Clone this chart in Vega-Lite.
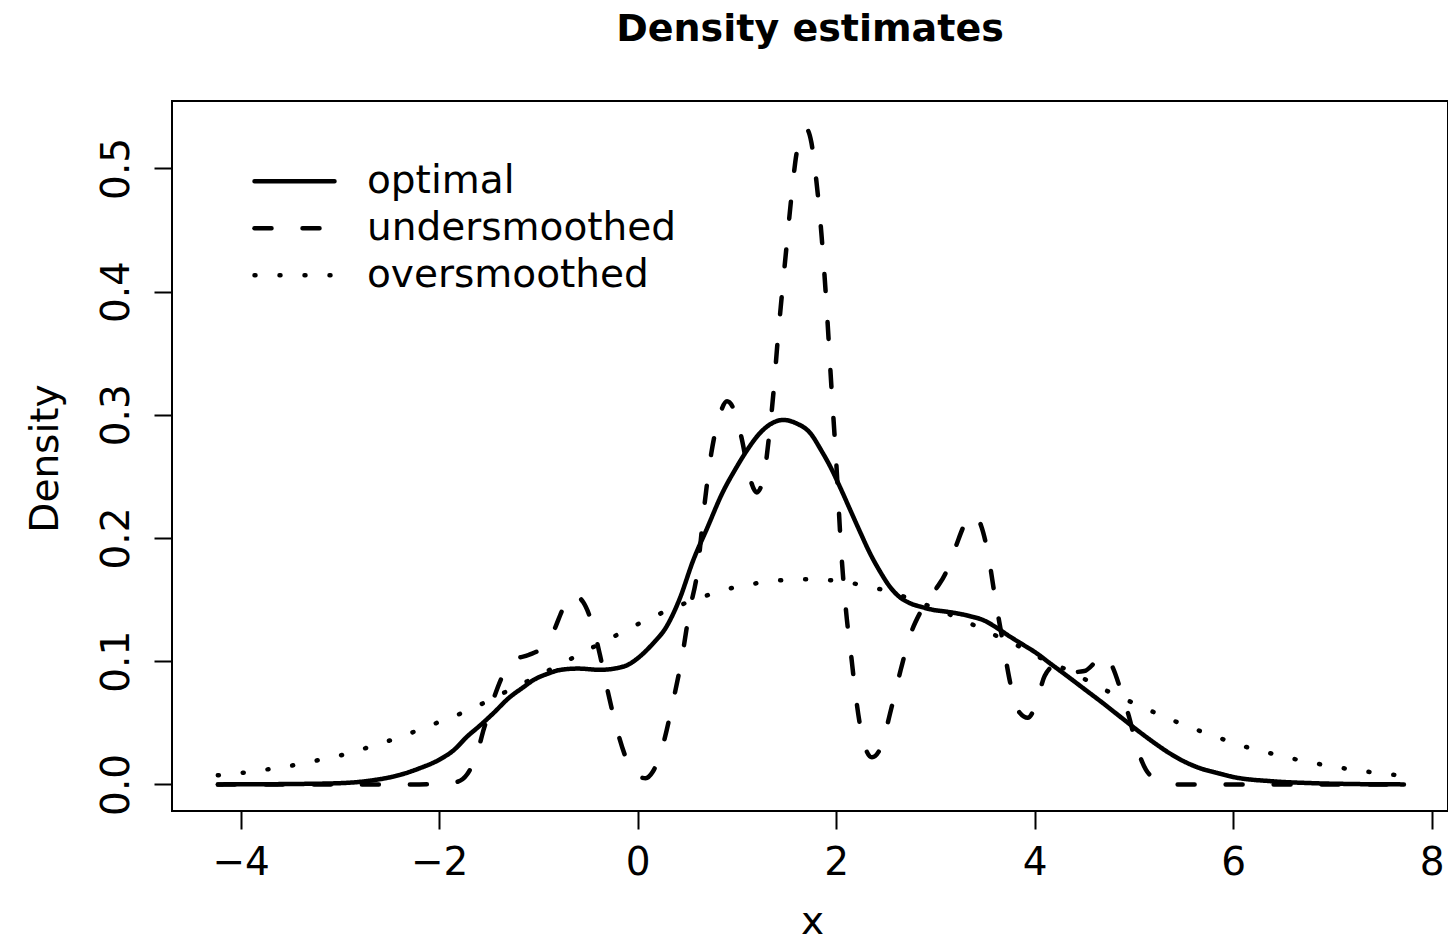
{
  "$schema": "https://vega.github.io/schema/vega-lite/v6.json",
  "width": 1276,
  "height": 710,
  "autosize": {"type": "none"},
  "padding": {"left": 172, "top": 101, "right": 0, "bottom": 134},
  "background": "white",
  "config": {
    "view": {"stroke": "black", "strokeWidth": 2},
    "font": "DejaVu Sans",
    "axis": {
      "domain": false, "grid": false, "tickColor": "black", "tickWidth": 2, "tickSize": 18,
      "labelFont": "DejaVu Sans", "labelFontSize": 39, "labelColor": "black",
      "titleFont": "DejaVu Sans", "titleFontSize": 39, "titleFontWeight": "normal", "titleColor": "black"
    }
  },
  "title": {
    "text": "Density estimates", "font": "DejaVu Sans", "fontSize": 38, "fontWeight": "bold",
    "color": "black", "anchor": "middle", "baseline": "alphabetic", "offset": 22
  },
  "data": {
    "values": [
      {"curve": "optimal", "x": -4.23, "density": 0},
      {"curve": "optimal", "x": -3.5, "density": 0.0003},
      {"curve": "optimal", "x": -3.0, "density": 0.001},
      {"curve": "optimal", "x": -2.7, "density": 0.003},
      {"curve": "optimal", "x": -2.4, "density": 0.0076},
      {"curve": "optimal", "x": -2.2, "density": 0.013},
      {"curve": "optimal", "x": -2.0, "density": 0.02},
      {"curve": "optimal", "x": -1.85, "density": 0.028},
      {"curve": "optimal", "x": -1.72, "density": 0.0387},
      {"curve": "optimal", "x": -1.6, "density": 0.047},
      {"curve": "optimal", "x": -1.455, "density": 0.0577},
      {"curve": "optimal", "x": -1.3, "density": 0.07},
      {"curve": "optimal", "x": -1.15, "density": 0.079},
      {"curve": "optimal", "x": -1.05, "density": 0.0847},
      {"curve": "optimal", "x": -0.9, "density": 0.09},
      {"curve": "optimal", "x": -0.78, "density": 0.0929},
      {"curve": "optimal", "x": -0.6, "density": 0.094},
      {"curve": "optimal", "x": -0.38, "density": 0.093},
      {"curve": "optimal", "x": -0.22, "density": 0.0942},
      {"curve": "optimal", "x": -0.1, "density": 0.097},
      {"curve": "optimal", "x": 0.02, "density": 0.1037},
      {"curve": "optimal", "x": 0.15, "density": 0.114},
      {"curve": "optimal", "x": 0.29, "density": 0.128},
      {"curve": "optimal", "x": 0.42, "density": 0.15},
      {"curve": "optimal", "x": 0.56, "density": 0.182},
      {"curve": "optimal", "x": 0.7, "density": 0.208},
      {"curve": "optimal", "x": 0.85, "density": 0.236},
      {"curve": "optimal", "x": 1.0, "density": 0.258},
      {"curve": "optimal", "x": 1.1, "density": 0.271},
      {"curve": "optimal", "x": 1.23, "density": 0.285},
      {"curve": "optimal", "x": 1.35, "density": 0.293},
      {"curve": "optimal", "x": 1.47, "density": 0.2958},
      {"curve": "optimal", "x": 1.6, "density": 0.293},
      {"curve": "optimal", "x": 1.74, "density": 0.285},
      {"curve": "optimal", "x": 1.85, "density": 0.271},
      {"curve": "optimal", "x": 1.94, "density": 0.258},
      {"curve": "optimal", "x": 2.04, "density": 0.241},
      {"curve": "optimal", "x": 2.14, "density": 0.223},
      {"curve": "optimal", "x": 2.24, "density": 0.205},
      {"curve": "optimal", "x": 2.34, "density": 0.1876},
      {"curve": "optimal", "x": 2.44, "density": 0.173},
      {"curve": "optimal", "x": 2.54, "density": 0.1605},
      {"curve": "optimal", "x": 2.64, "density": 0.152},
      {"curve": "optimal", "x": 2.745, "density": 0.147},
      {"curve": "optimal", "x": 2.86, "density": 0.144},
      {"curve": "optimal", "x": 2.98, "density": 0.1416},
      {"curve": "optimal", "x": 3.1, "density": 0.1403},
      {"curve": "optimal", "x": 3.21, "density": 0.1389},
      {"curve": "optimal", "x": 3.35, "density": 0.1365},
      {"curve": "optimal", "x": 3.48, "density": 0.1334},
      {"curve": "optimal", "x": 3.62, "density": 0.127},
      {"curve": "optimal", "x": 3.75, "density": 0.12},
      {"curve": "optimal", "x": 3.88, "density": 0.1135},
      {"curve": "optimal", "x": 4.02, "density": 0.1064},
      {"curve": "optimal", "x": 4.15, "density": 0.0985},
      {"curve": "optimal", "x": 4.29, "density": 0.0902},
      {"curve": "optimal", "x": 4.49, "density": 0.078},
      {"curve": "optimal", "x": 4.69, "density": 0.0658},
      {"curve": "optimal", "x": 4.86, "density": 0.055},
      {"curve": "optimal", "x": 5.03, "density": 0.0442},
      {"curve": "optimal", "x": 5.2, "density": 0.034},
      {"curve": "optimal", "x": 5.36, "density": 0.0252},
      {"curve": "optimal", "x": 5.52, "density": 0.018},
      {"curve": "optimal", "x": 5.67, "density": 0.013},
      {"curve": "optimal", "x": 5.85, "density": 0.009},
      {"curve": "optimal", "x": 6.0, "density": 0.006},
      {"curve": "optimal", "x": 6.4, "density": 0.0025},
      {"curve": "optimal", "x": 6.8, "density": 0.001},
      {"curve": "optimal", "x": 7.2, "density": 0.0003},
      {"curve": "optimal", "x": 7.72, "density": 0},

      {"curve": "undersmoothed", "x": -4.23, "density": 0},
      {"curve": "undersmoothed", "x": -3.0, "density": 0},
      {"curve": "undersmoothed", "x": -2.2, "density": 0},
      {"curve": "undersmoothed", "x": -1.95, "density": 0.0005},
      {"curve": "undersmoothed", "x": -1.82, "density": 0.002},
      {"curve": "undersmoothed", "x": -1.72, "density": 0.008},
      {"curve": "undersmoothed", "x": -1.62, "density": 0.025},
      {"curve": "undersmoothed", "x": -1.55, "density": 0.045},
      {"curve": "undersmoothed", "x": -1.45, "density": 0.07},
      {"curve": "undersmoothed", "x": -1.35, "density": 0.09},
      {"curve": "undersmoothed", "x": -1.25, "density": 0.101},
      {"curve": "undersmoothed", "x": -1.1, "density": 0.105},
      {"curve": "undersmoothed", "x": -0.95, "density": 0.112},
      {"curve": "undersmoothed", "x": -0.85, "density": 0.124},
      {"curve": "undersmoothed", "x": -0.75, "density": 0.143},
      {"curve": "undersmoothed", "x": -0.65, "density": 0.154},
      {"curve": "undersmoothed", "x": -0.55, "density": 0.148},
      {"curve": "undersmoothed", "x": -0.45, "density": 0.128},
      {"curve": "undersmoothed", "x": -0.38, "density": 0.105},
      {"curve": "undersmoothed", "x": -0.3, "density": 0.075},
      {"curve": "undersmoothed", "x": -0.2, "density": 0.042},
      {"curve": "undersmoothed", "x": -0.1, "density": 0.018},
      {"curve": "undersmoothed", "x": 0.0, "density": 0.007},
      {"curve": "undersmoothed", "x": 0.08, "density": 0.005},
      {"curve": "undersmoothed", "x": 0.15, "density": 0.01},
      {"curve": "undersmoothed", "x": 0.24, "density": 0.028},
      {"curve": "undersmoothed", "x": 0.35, "density": 0.065},
      {"curve": "undersmoothed", "x": 0.45, "density": 0.105},
      {"curve": "undersmoothed", "x": 0.52, "density": 0.14},
      {"curve": "undersmoothed", "x": 0.6, "density": 0.172},
      {"curve": "undersmoothed", "x": 0.67, "density": 0.225},
      {"curve": "undersmoothed", "x": 0.74, "density": 0.268},
      {"curve": "undersmoothed", "x": 0.82, "density": 0.298},
      {"curve": "undersmoothed", "x": 0.9, "density": 0.311},
      {"curve": "undersmoothed", "x": 0.98, "density": 0.302},
      {"curve": "undersmoothed", "x": 1.05, "density": 0.28},
      {"curve": "undersmoothed", "x": 1.12, "density": 0.252},
      {"curve": "undersmoothed", "x": 1.2, "density": 0.237},
      {"curve": "undersmoothed", "x": 1.27, "density": 0.25},
      {"curve": "undersmoothed", "x": 1.32, "density": 0.28},
      {"curve": "undersmoothed", "x": 1.37, "density": 0.32},
      {"curve": "undersmoothed", "x": 1.41, "density": 0.36},
      {"curve": "undersmoothed", "x": 1.45, "density": 0.395},
      {"curve": "undersmoothed", "x": 1.5, "density": 0.437},
      {"curve": "undersmoothed", "x": 1.55, "density": 0.478},
      {"curve": "undersmoothed", "x": 1.6, "density": 0.512},
      {"curve": "undersmoothed", "x": 1.65, "density": 0.527},
      {"curve": "undersmoothed", "x": 1.7, "density": 0.532},
      {"curve": "undersmoothed", "x": 1.75, "density": 0.521},
      {"curve": "undersmoothed", "x": 1.8, "density": 0.49},
      {"curve": "undersmoothed", "x": 1.85, "density": 0.448},
      {"curve": "undersmoothed", "x": 1.9, "density": 0.392},
      {"curve": "undersmoothed", "x": 1.95, "density": 0.325},
      {"curve": "undersmoothed", "x": 2.0, "density": 0.262},
      {"curve": "undersmoothed", "x": 2.05, "density": 0.19},
      {"curve": "undersmoothed", "x": 2.1, "density": 0.14},
      {"curve": "undersmoothed", "x": 2.15, "density": 0.105},
      {"curve": "undersmoothed", "x": 2.2, "density": 0.07},
      {"curve": "undersmoothed", "x": 2.27, "density": 0.036},
      {"curve": "undersmoothed", "x": 2.36, "density": 0.022},
      {"curve": "undersmoothed", "x": 2.45, "density": 0.03},
      {"curve": "undersmoothed", "x": 2.55, "density": 0.06},
      {"curve": "undersmoothed", "x": 2.65, "density": 0.093},
      {"curve": "undersmoothed", "x": 2.75, "density": 0.122},
      {"curve": "undersmoothed", "x": 2.85, "density": 0.14},
      {"curve": "undersmoothed", "x": 3.0, "density": 0.158},
      {"curve": "undersmoothed", "x": 3.1, "density": 0.171},
      {"curve": "undersmoothed", "x": 3.2, "density": 0.192},
      {"curve": "undersmoothed", "x": 3.3, "density": 0.212},
      {"curve": "undersmoothed", "x": 3.38, "density": 0.219},
      {"curve": "undersmoothed", "x": 3.46, "density": 0.21},
      {"curve": "undersmoothed", "x": 3.53, "density": 0.187},
      {"curve": "undersmoothed", "x": 3.6, "density": 0.152},
      {"curve": "undersmoothed", "x": 3.68, "density": 0.115},
      {"curve": "undersmoothed", "x": 3.76, "density": 0.08},
      {"curve": "undersmoothed", "x": 3.85, "density": 0.058},
      {"curve": "undersmoothed", "x": 3.93, "density": 0.054},
      {"curve": "undersmoothed", "x": 4.0, "density": 0.062},
      {"curve": "undersmoothed", "x": 4.1, "density": 0.088},
      {"curve": "undersmoothed", "x": 4.2, "density": 0.096},
      {"curve": "undersmoothed", "x": 4.35, "density": 0.091},
      {"curve": "undersmoothed", "x": 4.5, "density": 0.092},
      {"curve": "undersmoothed", "x": 4.62, "density": 0.1},
      {"curve": "undersmoothed", "x": 4.7, "density": 0.105},
      {"curve": "undersmoothed", "x": 4.78, "density": 0.096},
      {"curve": "undersmoothed", "x": 4.88, "density": 0.073},
      {"curve": "undersmoothed", "x": 4.95, "density": 0.055},
      {"curve": "undersmoothed", "x": 5.03, "density": 0.03},
      {"curve": "undersmoothed", "x": 5.12, "density": 0.012},
      {"curve": "undersmoothed", "x": 5.25, "density": 0.003},
      {"curve": "undersmoothed", "x": 5.4, "density": 0},
      {"curve": "undersmoothed", "x": 7.72, "density": 0},

      {"curve": "oversmoothed", "x": -4.23, "density": 0.0074},
      {"curve": "oversmoothed", "x": -3.97, "density": 0.0095},
      {"curve": "oversmoothed", "x": -3.73, "density": 0.0122},
      {"curve": "oversmoothed", "x": -3.49, "density": 0.0152},
      {"curve": "oversmoothed", "x": -3.26, "density": 0.019},
      {"curve": "oversmoothed", "x": -3.02, "density": 0.023},
      {"curve": "oversmoothed", "x": -2.8, "density": 0.028},
      {"curve": "oversmoothed", "x": -2.56, "density": 0.034},
      {"curve": "oversmoothed", "x": -2.34, "density": 0.04},
      {"curve": "oversmoothed", "x": -2.13, "density": 0.0468},
      {"curve": "oversmoothed", "x": -1.9, "density": 0.0536},
      {"curve": "oversmoothed", "x": -1.68, "density": 0.0612},
      {"curve": "oversmoothed", "x": -1.47, "density": 0.0693},
      {"curve": "oversmoothed", "x": -1.26, "density": 0.078},
      {"curve": "oversmoothed", "x": -1.05, "density": 0.0861},
      {"curve": "oversmoothed", "x": -0.84, "density": 0.095},
      {"curve": "oversmoothed", "x": -0.63, "density": 0.1037},
      {"curve": "oversmoothed", "x": -0.42, "density": 0.1126},
      {"curve": "oversmoothed", "x": -0.21, "density": 0.1213},
      {"curve": "oversmoothed", "x": 0.0, "density": 0.13},
      {"curve": "oversmoothed", "x": 0.21, "density": 0.138},
      {"curve": "oversmoothed", "x": 0.43, "density": 0.1456},
      {"curve": "oversmoothed", "x": 0.645, "density": 0.1519},
      {"curve": "oversmoothed", "x": 0.87, "density": 0.1578},
      {"curve": "oversmoothed", "x": 1.1, "density": 0.1619},
      {"curve": "oversmoothed", "x": 1.3, "density": 0.1645},
      {"curve": "oversmoothed", "x": 1.5, "density": 0.166},
      {"curve": "oversmoothed", "x": 1.7, "density": 0.1665},
      {"curve": "oversmoothed", "x": 1.9, "density": 0.166},
      {"curve": "oversmoothed", "x": 2.1, "density": 0.1642},
      {"curve": "oversmoothed", "x": 2.3, "density": 0.161},
      {"curve": "oversmoothed", "x": 2.54, "density": 0.1564},
      {"curve": "oversmoothed", "x": 2.76, "density": 0.15},
      {"curve": "oversmoothed", "x": 2.98, "density": 0.1434},
      {"curve": "oversmoothed", "x": 3.2, "density": 0.136},
      {"curve": "oversmoothed", "x": 3.42, "density": 0.128},
      {"curve": "oversmoothed", "x": 3.63, "density": 0.12},
      {"curve": "oversmoothed", "x": 3.85, "density": 0.1118},
      {"curve": "oversmoothed", "x": 4.05, "density": 0.103},
      {"curve": "oversmoothed", "x": 4.27, "density": 0.095},
      {"curve": "oversmoothed", "x": 4.49, "density": 0.086},
      {"curve": "oversmoothed", "x": 4.69, "density": 0.0774},
      {"curve": "oversmoothed", "x": 4.9, "density": 0.0695},
      {"curve": "oversmoothed", "x": 5.11, "density": 0.0618},
      {"curve": "oversmoothed", "x": 5.33, "density": 0.0541},
      {"curve": "oversmoothed", "x": 5.55, "density": 0.0468},
      {"curve": "oversmoothed", "x": 5.78, "density": 0.04},
      {"curve": "oversmoothed", "x": 6.0, "density": 0.0338},
      {"curve": "oversmoothed", "x": 6.23, "density": 0.028},
      {"curve": "oversmoothed", "x": 6.45, "density": 0.0239},
      {"curve": "oversmoothed", "x": 6.69, "density": 0.0192},
      {"curve": "oversmoothed", "x": 6.92, "density": 0.0157},
      {"curve": "oversmoothed", "x": 7.16, "density": 0.0125},
      {"curve": "oversmoothed", "x": 7.4, "density": 0.0098},
      {"curve": "oversmoothed", "x": 7.64, "density": 0.0076},
      {"curve": "oversmoothed", "x": 7.72, "density": 0.0071}
    ]
  },
  "mark": {"type": "line", "color": "black", "strokeWidth": 4.5, "strokeCap": "round", "strokeJoin": "round", "interpolate": "monotone"},
  "encoding": {
    "x": {
      "field": "x", "type": "quantitative",
      "scale": {"domain": [-4.692, 8.164], "nice": false, "zero": false},
      "axis": {
        "values": [-4, -2, 0, 2, 4, 6, 8], "labelPadding": 14,
        "title": "x", "titleX": 640, "titleY": 122, "titleBaseline": "alphabetic", "titleAlign": "center"
      }
    },
    "y": {
      "field": "density", "type": "quantitative",
      "scale": {"domain": [-0.0216, 0.5547], "nice": false, "zero": false},
      "axis": {
        "values": [0, 0.1, 0.2, 0.3, 0.4, 0.5], "format": ".1f",
        "labelAngle": -90, "labelAlign": "center", "labelBaseline": "alphabetic", "labelPadding": 26,
        "title": "Density", "titleAngle": -90, "titleAlign": "center", "titleBaseline": "alphabetic",
        "titleX": -115, "titleY": 357
      }
    },
    "strokeDash": {
      "field": "curve", "type": "nominal",
      "scale": {
        "domain": ["optimal", "undersmoothed", "oversmoothed"],
        "range": [[1, 0], [17, 31], [1, 24]]
      },
      "legend": {
        "title": null, "orient": "none", "legendX": 80, "legendY": 57,
        "symbolType": "stroke", "symbolSize": 6400, "symbolStrokeWidth": 4.5, "symbolStrokeColor": "black",
        "labelFont": "DejaVu Sans", "labelFontSize": 39, "labelColor": "black", "labelOffset": 30,
        "labelLimit": 1000, "clipHeight": 46.5, "rowPadding": 0, "padding": 0,
        "encode": {"symbols": {"update": {"strokeCap": {"value": "round"}}}}
      }
    }
  }
}
